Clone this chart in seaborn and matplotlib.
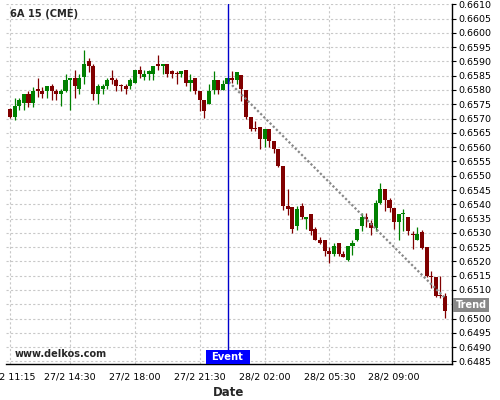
import numpy as np
import pandas as pd
import seaborn as sns
import matplotlib.pyplot as plt
import matplotlib.transforms as mtransforms
from matplotlib.patches import Rectangle
from matplotlib.ticker import MultipleLocator, FixedLocator, FormatStrFormatter

# 15 minute candles (prices in 1e-4 units)
opens = [6573.3, 6570.6, 6574.3, 6575.5, 6578.5, 6575.5, 6580.2, 6579.5, 6579.5, 6581.3,
         6579.5, 6578.7, 6579.5, 6583.4, 6584.3, 6580.5, 6584.5, 6590.3, 6588.3, 6578.7,
         6580.5, 6581.3, 6584.3, 6583.4, 6581.5, 6581.3, 6581.3, 6582.6, 6587.1, 6584.5,
         6585.5, 6585.5, 6589.2, 6588.3, 6589.2, 6586.6, 6585.9, 6585.5, 6587.1, 6582.4,
         6584.3, 6579.5, 6576.4, 6575.2, 6580.1, 6583.4, 6580.1, 6582.2, 6584.3, 6583.4,
         6585.3, 6580.1, 6570.5, 6566.7, 6567.2, 6562.7, 6566.2, 6562.3, 6559.2, 6553.4,
         6539.4, 6539.1, 6532.3, 6539.4, 6535.0, 6536.6, 6531.4, 6527.6, 6527.6, 6523.5,
         6522.6, 6526.4, 6522.6, 6520.6, 6525.5, 6527.6, 6532.4, 6535.7, 6533.4, 6531.6,
         6540.3, 6545.2, 6541.5, 6538.6, 6533.8, 6536.6, 6535.7, 6529.5, 6527.6, 6530.2,
         6525.2, 6515.0, 6514.5, 6508.4, 6507.8]
highs = [6573.6, 6577.3, 6577.3, 6578.5, 6579.5, 6581.0, 6584.3, 6581.0, 6581.3, 6582.2,
         6580.5, 6580.5, 6585.5, 6584.3, 6587.1, 6585.5, 6594.1, 6591.3, 6589.2, 6582.2,
         6582.2, 6584.3, 6587.1, 6584.3, 6582.2, 6582.2, 6584.3, 6587.1, 6588.3, 6587.1,
         6587.1, 6588.3, 6592.4, 6589.2, 6589.2, 6587.1, 6586.6, 6586.6, 6587.1, 6585.5,
         6584.3, 6579.5, 6576.4, 6582.2, 6586.6, 6583.4, 6583.4, 6584.3, 6586.5, 6586.4,
         6585.3, 6580.1, 6570.5, 6569.3, 6567.2, 6566.2, 6566.2, 6562.3, 6559.2, 6553.4,
         6545.2, 6539.1, 6539.4, 6540.6, 6535.6, 6536.6, 6532.2, 6528.4, 6527.6, 6525.2,
         6526.6, 6526.4, 6523.5, 6525.5, 6527.6, 6531.4, 6536.9, 6536.9, 6534.5, 6541.5,
         6547.4, 6545.2, 6542.1, 6538.6, 6536.6, 6538.4, 6535.7, 6530.7, 6532.2, 6531.0,
         6525.2, 6516.5, 6514.5, 6514.8, 6509.0]
lows = [6570.2, 6569.4, 6573.1, 6573.0, 6574.0, 6574.0, 6577.6, 6577.3, 6577.3, 6576.4,
        6576.4, 6574.3, 6579.3, 6573.1, 6577.3, 6578.5, 6582.2, 6586.3, 6576.4, 6575.2,
        6578.5, 6580.5, 6582.2, 6579.5, 6579.6, 6578.5, 6580.5, 6582.4, 6584.3, 6583.4,
        6583.4, 6583.4, 6587.1, 6585.5, 6584.5, 6584.3, 6582.2, 6584.5, 6581.3, 6579.5,
        6578.7, 6572.6, 6570.3, 6575.2, 6578.5, 6578.5, 6580.1, 6582.2, 6582.5, 6582.1,
        6576.3, 6569.9, 6565.5, 6565.8, 6559.4, 6560.0, 6560.0, 6558.0, 6553.0, 6537.9,
        6536.2, 6530.1, 6530.9, 6534.8, 6531.3, 6529.3, 6527.6, 6526.0, 6522.0, 6519.4,
        6522.0, 6522.0, 6521.5, 6520.0, 6522.3, 6527.0, 6530.5, 6532.0, 6529.3, 6530.5,
        6540.0, 6537.5, 6537.2, 6531.4, 6527.6, 6530.5, 6529.3, 6524.3, 6527.5, 6524.3,
        6514.6, 6510.7, 6507.6, 6507.2, 6500.2]
closes = [6570.6, 6574.3, 6576.4, 6578.5, 6575.5, 6579.5, 6579.5, 6578.7, 6581.3, 6579.5,
          6578.7, 6579.5, 6583.4, 6584.3, 6581.3, 6584.3, 6589.2, 6588.3, 6578.7, 6581.3,
          6581.3, 6583.4, 6583.4, 6581.5, 6581.3, 6580.5, 6583.4, 6587.1, 6585.5, 6585.5,
          6586.6, 6588.3, 6588.3, 6589.2, 6585.5, 6585.7, 6585.5, 6586.6, 6582.4, 6583.4,
          6579.5, 6576.4, 6572.6, 6579.5, 6583.4, 6580.1, 6582.2, 6584.3, 6583.4, 6586.4,
          6580.3, 6570.5, 6566.4, 6566.4, 6562.7, 6566.2, 6562.3, 6559.2, 6553.4, 6539.4,
          6538.5, 6531.3, 6538.3, 6535.6, 6535.3, 6530.5, 6527.6, 6526.6, 6523.5, 6522.7,
          6525.5, 6522.6, 6521.7, 6525.5, 6526.4, 6531.4, 6535.7, 6534.8, 6531.6, 6540.3,
          6545.2, 6541.5, 6538.6, 6533.8, 6536.5, 6536.9, 6530.5, 6529.1, 6529.5, 6524.7,
          6515.0, 6514.5, 6508.0, 6507.8, 6502.6]

tick_idx = [0, 13, 27, 41, 55, 69, 83]
tick_labels = ['27/2 11:15', '27/2 14:30', '27/2 18:00', '27/2 21:30',
               '28/2 02:00', '28/2 05:30', '28/2 09:00']
event_idx = 47
trend_x = [47.3, 94.0]
trend_y = [0.65828, 0.65072]

df = pd.DataFrame({'open': opens, 'high': highs, 'low': lows, 'close': closes}) / 10000
df['idx'] = np.arange(len(df))
df['color'] = np.where(df['close'] >= df['open'], '#008000', '#800000')

sns.set_style('white')
plt.rcParams['font.family'] = ['DejaVu Sans']

fig = plt.figure(figsize=(5, 4), dpi=100)
ax = fig.add_axes([0.012, 0.09, 0.892, 0.9])

# wicks and bodies
ax.vlines(df['idx'], df['low'], df['high'], colors=df['color'], lw=0.9, zorder=2)
body = (df['close'] - df['open']).abs().clip(lower=0.00004)
ax.bar(df['idx'], body, bottom=df[['open', 'close']].min(axis=1),
       width=0.88, color=df['color'], linewidth=0, zorder=3)

# trend line
sns.lineplot(x=trend_x, y=trend_y, ax=ax, color='#888888', lw=1.6,
             linestyle=(0, (1, 1)), zorder=4)

# event line
ax.axvline(event_idx, color='#0000cc', lw=1, zorder=5)

ax.set_xlim(-0.86, 95.5)
ax.set_ylim(0.64841, 0.66101)

ax.xaxis.set_major_locator(FixedLocator(tick_idx))
ax.set_xticklabels(tick_labels)
minor = []
for a, b in zip(tick_idx[:-1], tick_idx[1:]):
    minor += [a + (b - a) * k / 4 for k in (1, 2, 3)]
minor += [tick_idx[-1] + 3.25 * k for k in (1, 2, 3)]
ax.xaxis.set_minor_locator(FixedLocator(minor))

ax.yaxis.tick_right()
ax.yaxis.set_major_locator(MultipleLocator(0.0005))
ax.yaxis.set_major_formatter(FormatStrFormatter('%.4f'))

ax.tick_params(axis='both', which='major', labelsize=6.8, length=3, width=0.8,
               direction='out', color='black', labelcolor='black')
ax.tick_params(axis='x', which='minor', length=2, width=0.8, color='black')
ax.tick_params(axis='x', which='major', pad=3)
ax.tick_params(axis='y', which='major', pad=1.5, right=True, left=False)

ax.grid(True, which='major', linestyle=(0, (2, 2)), color='#c8c8c8', lw=0.8)
ax.set_axisbelow(True)

for side in ['left', 'top']:
    ax.spines[side].set_visible(False)
for side in ['right', 'bottom']:
    ax.spines[side].set_color('black')
    ax.spines[side].set_linewidth(1)

ax.set_xlabel('Date', fontsize=8.5, fontweight='bold', labelpad=3)
ax.set_ylabel('')

ax.text(0.009, 0.972, '6A 15 (CME)', transform=ax.transAxes, fontsize=7.1,
        fontweight='bold', ha='left', va='center')
ax.text(0.02, 0.028, 'www.delkos.com', transform=ax.transAxes, fontsize=7,
        fontweight='bold', ha='left', va='center')

# event label box, sitting on the x axis
trans = mtransforms.blended_transform_factory(ax.transData, ax.transAxes)
ax.add_patch(Rectangle((event_idx - 4.75, 0.0), 9.5, 0.039, transform=trans,
                       fc='#0000ff', ec='none', zorder=6, clip_on=False))
ax.text(event_idx, 0.0195, 'Event', transform=trans, fontsize=7.2, fontweight='bold',
        color='white', ha='center', va='center', zorder=7)

# trend label box at the right edge, at the trend line's level
slope = (trend_y[1] - trend_y[0]) / (trend_x[1] - trend_x[0])
trend_end = trend_y[1] + slope * (ax.get_xlim()[1] - trend_x[1])
trans2 = mtransforms.blended_transform_factory(ax.transAxes, ax.transData)
ax.add_patch(Rectangle((1.0015, trend_end - 0.00025), 0.082, 0.0005, transform=trans2,
                       fc='#888888', ec='none', zorder=6, clip_on=False))
ax.text(1.0425, trend_end, 'Trend', transform=trans2, fontsize=7, fontweight='bold',
        color='white', ha='center', va='center', zorder=7, clip_on=False)

# the trend box covers the tick label at that level
for lab, val in zip(ax.get_yticklabels(), ax.get_yticks()):
    if abs(val - trend_end) < 0.0002:
        lab.set_visible(False)

plt.savefig('out.png', dpi=100)
